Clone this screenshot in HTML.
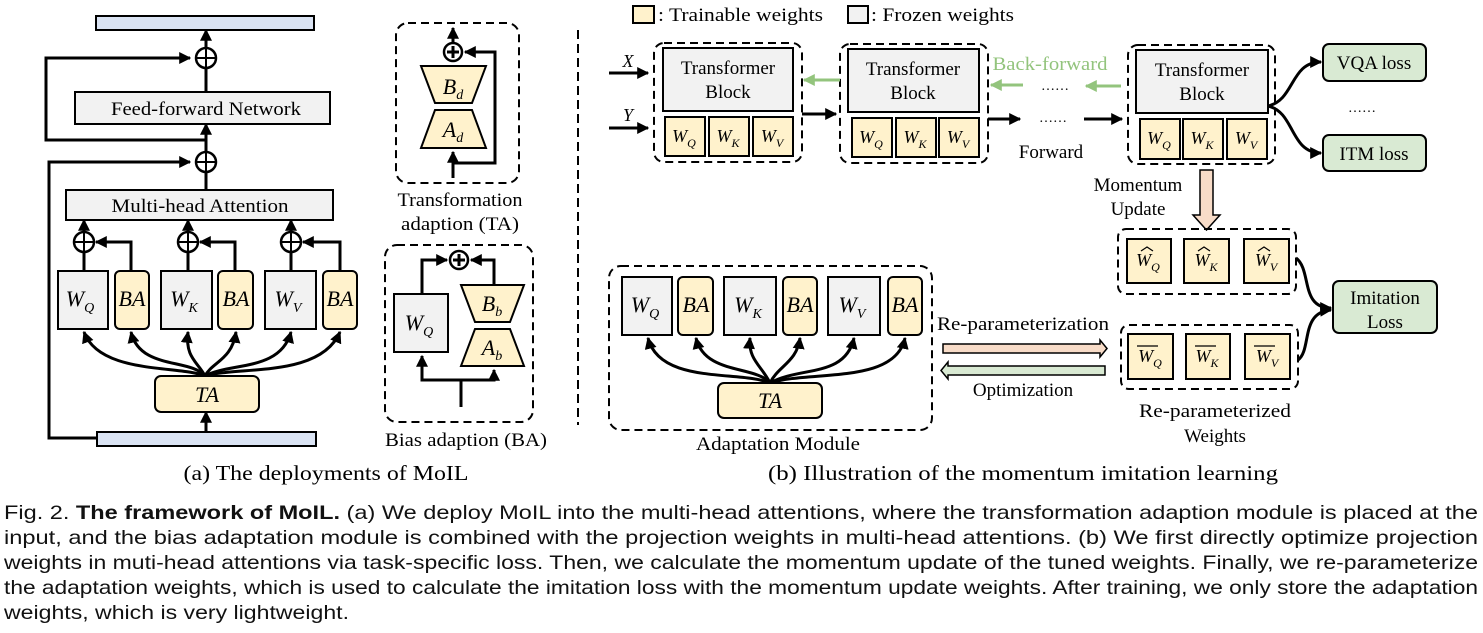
<!DOCTYPE html>
<html><head><meta charset="utf-8"><style>
body{margin:0;background:#fff;width:1483px;height:633px;overflow:hidden;position:relative}
svg{position:absolute;left:0;top:0}
</style></head><body>
<svg width="1483" height="633" viewBox="0 0 1483 633" font-family="Liberation Serif, serif">
<defs>
<marker id="a" viewBox="0 0 10 10" refX="9" refY="5" markerWidth="4" markerHeight="4" orient="auto"><path d="M0,0L10,5L0,10z" fill="#000"/></marker>
<marker id="g" viewBox="0 0 10 10" refX="9" refY="5" markerWidth="4" markerHeight="4" orient="auto"><path d="M0,0L10,5L0,10z" fill="#93c47d"/></marker>
</defs>
<g stroke="#000" stroke-width="2" fill="none">
<rect x="96" y="16" width="218" height="14" fill="#dae3f3"/>
<rect x="97" y="432" width="219" height="14" fill="#dae3f3"/>
<rect x="75" y="92" width="255" height="32" fill="#f2f2f2"/>
<rect x="66" y="190" width="267" height="30" fill="#f2f2f2"/>
<path d="M206 48V30" stroke-width="3" marker-end="url(#a)"/>
<path d="M206 92V68" stroke-width="3"/>
<path d="M206 140H46V58H190" stroke-width="3" marker-end="url(#a)"/>
<path d="M206 152V124" stroke-width="3" marker-end="url(#a)"/>
<path d="M206 190V172" stroke-width="3"/>
<path d="M97 438H49V162H190" stroke-width="3" marker-end="url(#a)"/>
<path d="M206 432V412" stroke-width="3" marker-end="url(#a)"/>
<circle cx="206" cy="58" r="10" stroke-width="2.5"/><path d="M196 58H216M206 48V68"/>
<circle cx="206" cy="162" r="10" stroke-width="2.5"/><path d="M196 162H216M206 152V172"/>
<g stroke-width="3">
<path d="M84 232V220" marker-end="url(#a)"/><path d="M188 232V220" marker-end="url(#a)"/><path d="M291 232V220" marker-end="url(#a)"/>
<path d="M84 271V252"/><path d="M188 271V252"/><path d="M291 271V252"/>
<path d="M131 271V242H96" marker-end="url(#a)"/><path d="M235 271V242H200" marker-end="url(#a)"/><path d="M340 271V242H303" marker-end="url(#a)"/>
</g>
<circle cx="84" cy="242" r="10" stroke-width="2.5"/><path d="M74 242H94M84 232V252"/>
<circle cx="188" cy="242" r="10" stroke-width="2.5"/><path d="M178 242H198M188 232V252"/>
<circle cx="291" cy="242" r="10" stroke-width="2.5"/><path d="M281 242H301M291 232V252"/>
<rect x="58" y="271" width="50" height="58" fill="#f2f2f2"/>
<rect x="115" y="271" width="34" height="58" rx="5" fill="#fff2cc"/>
<rect x="161" y="271" width="51" height="58" fill="#f2f2f2"/>
<rect x="218" y="271" width="35" height="58" rx="5" fill="#fff2cc"/>
<rect x="265" y="271" width="51" height="58" fill="#f2f2f2"/>
<rect x="323" y="271" width="34" height="58" rx="5" fill="#fff2cc"/>
<g stroke-width="3">
<path d="M205 376C180 365 100 375 84 332" marker-end="url(#a)"/>
<path d="M205 376C190 358 140 370 131 332" marker-end="url(#a)"/>
<path d="M205 376C198 362 185 358 188 332" marker-end="url(#a)"/>
<path d="M205 376C212 362 232 360 236 332" marker-end="url(#a)"/>
<path d="M205 376C230 362 280 372 291 332" marker-end="url(#a)"/>
<path d="M205 376C240 366 320 378 340 332" marker-end="url(#a)"/>
</g>
<rect x="155" y="376" width="104" height="36" rx="6" fill="#fff2cc"/>
<rect x="396" y="23" width="123" height="160" rx="12" stroke-dasharray="8,5"/>
<path d="M453 42V28" stroke-width="3" marker-end="url(#a)"/>
<path d="M453 178V152" stroke-width="3" marker-end="url(#a)"/>
<path d="M453 163H495V52H465" stroke-width="3" marker-end="url(#a)"/>
<circle cx="453" cy="52" r="9" stroke-width="2.5"/><path d="M447 52H459M453 46V58" stroke-width="3"/>
<path d="M421 66H486L472 103H435Z" fill="#fff2cc"/>
<path d="M435 110H472L486 148H421Z" fill="#fff2cc"/>
<rect x="385" y="245" width="148" height="177" rx="12" stroke-dasharray="8,5"/>
<path d="M461 407V380H422V356" stroke-width="3" marker-end="url(#a)"/>
<path d="M461 380H494V370" stroke-width="3" marker-end="url(#a)"/>
<path d="M422 294V260H447" stroke-width="3" marker-end="url(#a)"/>
<path d="M494 285V260H471" stroke-width="3" marker-end="url(#a)"/>
<circle cx="459" cy="260" r="9" stroke-width="2.5"/><path d="M453 260H465M459 254V266" stroke-width="3"/>
<rect x="394" y="294" width="54" height="58" fill="#f2f2f2"/>
<path d="M461 285H524L510 322H475Z" fill="#fff2cc"/>
<path d="M475 329H510L524 366H461Z" fill="#fff2cc"/>
<path d="M578 30V425" stroke-dasharray="9,5" stroke-width="2"/>
<rect x="633" y="6" width="21" height="17" fill="#fff2cc"/>
<rect x="848" y="6" width="20" height="17" fill="#f2f2f2"/>
<rect x="654" y="43" width="148" height="119" rx="10" stroke-dasharray="8,5"/>
<rect x="663" y="48" width="130" height="63" fill="#f2f2f2"/>
<rect x="840" y="44" width="148" height="119" rx="10" stroke-dasharray="8,5"/>
<rect x="848" y="49" width="131" height="63" fill="#f2f2f2"/>
<rect x="1128" y="45" width="147" height="119" rx="10" stroke-dasharray="8,5"/>
<rect x="1136" y="50" width="132" height="63" fill="#f2f2f2"/>
<g fill="#fff2cc">
<rect x="665" y="117" width="40" height="39"/><rect x="709" y="117" width="40" height="39"/><rect x="753" y="117" width="40" height="39"/>
<rect x="852" y="118" width="40" height="39"/><rect x="896" y="118" width="40" height="39"/><rect x="939" y="118" width="40" height="39"/>
<rect x="1140" y="119" width="40" height="40"/><rect x="1183" y="119" width="40" height="40"/><rect x="1227" y="119" width="40" height="40"/>
</g>
<g stroke-width="3">
<path d="M609 73H648" marker-end="url(#a)"/><path d="M609 128H648" marker-end="url(#a)"/>
<path d="M802 114H836" marker-end="url(#a)"/>
<path d="M988 119H1020" marker-end="url(#a)"/><path d="M1084 119H1122" marker-end="url(#a)"/>
<path d="M1268 106C1295 100 1290 62 1321 62" marker-end="url(#a)"/>
<path d="M1268 106C1295 112 1290 153 1321 153" marker-end="url(#a)"/>
</g>
<g stroke="#93c47d" stroke-width="3">
<path d="M840 80H804" marker-end="url(#g)"/><path d="M1023 85H991" marker-end="url(#g)"/><path d="M1121 86H1086" marker-end="url(#g)"/>
</g>
<rect x="1323" y="44" width="103" height="37" rx="6" fill="#d9ead3"/>
<rect x="1323" y="135" width="103" height="36" rx="6" fill="#d9ead3"/>
<rect x="1333" y="281" width="104" height="52" rx="6" fill="#d9ead3"/>
<path d="M1200 170H1213V215H1220L1206.5 230L1193 215H1200Z" fill="#f8dcc8" stroke-width="1.5"/>
<rect x="1118" y="229" width="178" height="65" rx="8" stroke-dasharray="8,5"/>
<rect x="1121" y="325" width="177" height="64" rx="8" stroke-dasharray="8,5"/>
<g fill="#fff2cc">
<rect x="1127" y="239" width="44" height="44"/><rect x="1184" y="239" width="45" height="44"/><rect x="1244" y="239" width="45" height="44"/>
<rect x="1128" y="334" width="45" height="45"/><rect x="1186" y="334" width="44" height="45"/><rect x="1245" y="334" width="45" height="45"/>
</g>
<path d="M1296 258C1312 270 1300 308 1331 308" stroke-width="3" marker-end="url(#a)"/>
<path d="M1298 360C1312 350 1300 312 1331 310" stroke-width="3" marker-end="url(#a)"/>
<rect x="609" y="266" width="323" height="164" rx="12" stroke-dasharray="8,5"/>
<rect x="622" y="277" width="50" height="58" fill="#f2f2f2"/>
<rect x="678" y="277" width="35" height="58" rx="5" fill="#fff2cc"/>
<rect x="724" y="277" width="52" height="58" fill="#f2f2f2"/>
<rect x="783" y="277" width="34" height="58" rx="5" fill="#fff2cc"/>
<rect x="828" y="277" width="52" height="58" fill="#f2f2f2"/>
<rect x="888" y="277" width="34" height="58" rx="5" fill="#fff2cc"/>
<g stroke-width="3">
<path d="M770 383C740 370 660 385 648 338" marker-end="url(#a)"/>
<path d="M770 383C755 365 705 375 696 338" marker-end="url(#a)"/>
<path d="M770 383C762 366 748 360 750 338" marker-end="url(#a)"/>
<path d="M770 383C778 366 797 362 800 338" marker-end="url(#a)"/>
<path d="M770 383C800 366 845 378 854 338" marker-end="url(#a)"/>
<path d="M770 383C810 370 895 385 905 338" marker-end="url(#a)"/>
</g>
<rect x="718" y="383" width="104" height="35" rx="6" fill="#fff2cc"/>
<path d="M943 344H1100V340L1107 348.5L1100 357V353H943Z" fill="#f8dcc8" stroke-width="1.5"/>
<path d="M1105 366H948V362L941 370.5L948 379V375H1105Z" fill="#d9ead3" stroke-width="1.5"/>
</g>
<g stroke="#000" stroke-width="1.2" fill="none">
<path d="M1141 251l6-4 6 4"/><path d="M1198 251l6-4 6 4"/><path d="M1258 251l6-4 6 4"/>
<path d="M1137 346H1158"/><path d="M1195 346H1216"/><path d="M1254 346H1275"/>
</g>
<g font-size="19" fill="#000" text-anchor="middle">
<text x="206" y="115" textLength="190" lengthAdjust="spacingAndGlyphs">Feed-forward Network</text>
<text x="200" y="212" textLength="177" lengthAdjust="spacingAndGlyphs">Multi-head Attention</text>
<text x="460" y="206" textLength="125" lengthAdjust="spacingAndGlyphs">Transformation</text>
<text x="460" y="230" textLength="118" lengthAdjust="spacingAndGlyphs">adaption (TA)</text>
<text x="466" y="446" textLength="162" lengthAdjust="spacingAndGlyphs">Bias adaption (BA)</text>
<text x="728" y="74">Transformer</text><text x="728" y="98">Block</text>
<text x="913" y="75">Transformer</text><text x="913" y="99">Block</text>
<text x="1202" y="76">Transformer</text><text x="1202" y="100">Block</text>
<text x="1050" y="70" fill="#93c47d" textLength="115" lengthAdjust="spacingAndGlyphs">Back-forward</text>
<text x="1055" y="90" font-size="14">……</text>
<text x="1053" y="122" font-size="14">……</text>
<text x="1051" y="158">Forward</text>
<text x="1374" y="69">VQA loss</text>
<text x="1374" y="160">ITM loss</text>
<text x="1362" y="112" font-size="14">……</text>
<text x="1385" y="304">Imitation</text><text x="1385" y="328">Loss</text>
<text x="1138" y="191">Momentum</text><text x="1138" y="215">Update</text>
<text x="1023" y="330" textLength="172" lengthAdjust="spacingAndGlyphs">Re-parameterization</text>
<text x="1023" y="396">Optimization</text>
<text x="1215" y="417" textLength="152" lengthAdjust="spacingAndGlyphs">Re-parameterized</text><text x="1215" y="442">Weights</text>
<text x="778" y="450" textLength="164" lengthAdjust="spacingAndGlyphs">Adaptation Module</text>
<text x="326" y="480" font-size="21" textLength="285" lengthAdjust="spacingAndGlyphs">(a) The deployments of MoIL</text>
<text x="1023" y="480" font-size="21" textLength="510" lengthAdjust="spacingAndGlyphs">(b) Illustration of  the momentum imitation learning</text>
</g>
<g font-size="19" fill="#000" text-anchor="start">
<text x="658" y="21" textLength="165" lengthAdjust="spacingAndGlyphs">: Trainable weights</text>
<text x="871" y="21" textLength="143" lengthAdjust="spacingAndGlyphs">: Frozen weights</text>
</g>
<g font-style="italic" fill="#000" text-anchor="middle" font-size="22">
<text x="628" y="67" font-size="18">X</text><text x="628" y="121" font-size="18">Y</text>
<text x="80" y="306">W<tspan font-size="14" dy="6">Q</tspan></text>
<text x="132" y="306">BA</text>
<text x="184" y="306">W<tspan font-size="14" dy="6">K</tspan></text>
<text x="236" y="306">BA</text>
<text x="288" y="306">W<tspan font-size="14" dy="6">V</tspan></text>
<text x="340" y="306">BA</text>
<text x="207" y="402">TA</text>
<text x="453" y="94">B<tspan font-size="14" dy="5">d</tspan></text>
<text x="453" y="137">A<tspan font-size="14" dy="5">d</tspan></text>
<text x="419" y="330">W<tspan font-size="14" dy="6">Q</tspan></text>
<text x="492" y="311">B<tspan font-size="14" dy="5">b</tspan></text>
<text x="492" y="355">A<tspan font-size="14" dy="5">b</tspan></text>
<text x="645" y="312">W<tspan font-size="14" dy="6">Q</tspan></text>
<text x="696" y="312">BA</text>
<text x="748" y="312">W<tspan font-size="14" dy="6">K</tspan></text>
<text x="800" y="312">BA</text>
<text x="852" y="312">W<tspan font-size="14" dy="6">V</tspan></text>
<text x="905" y="312">BA</text>
<text x="770" y="408">TA</text>
</g>
<g font-style="italic" fill="#000" text-anchor="middle" font-size="18">
<text x="684" y="142">W<tspan font-size="12" dy="5">Q</tspan></text>
<text x="728" y="142">W<tspan font-size="12" dy="5">K</tspan></text>
<text x="772" y="142">W<tspan font-size="12" dy="5">V</tspan></text>
<text x="871" y="143">W<tspan font-size="12" dy="5">Q</tspan></text>
<text x="915" y="143">W<tspan font-size="12" dy="5">K</tspan></text>
<text x="958" y="143">W<tspan font-size="12" dy="5">V</tspan></text>
<text x="1159" y="144">W<tspan font-size="12" dy="5">Q</tspan></text>
<text x="1202" y="144">W<tspan font-size="12" dy="5">K</tspan></text>
<text x="1246" y="144">W<tspan font-size="12" dy="5">V</tspan></text>
<text x="1148" y="266">W<tspan font-size="12" dy="5">Q</tspan></text>
<text x="1206" y="266">W<tspan font-size="12" dy="5">K</tspan></text>
<text x="1266" y="266">W<tspan font-size="12" dy="5">V</tspan></text>
<text x="1150" y="362">W<tspan font-size="12" dy="5">Q</tspan></text>
<text x="1207" y="362">W<tspan font-size="12" dy="5">K</tspan></text>
<text x="1267" y="362">W<tspan font-size="12" dy="5">V</tspan></text>
</g>
<g font-family="Liberation Sans, sans-serif" font-size="19.5" fill="#111">
<text x="4" y="519" textLength="1474" lengthAdjust="spacingAndGlyphs">Fig. 2. <tspan font-weight="bold">The framework of MoIL.</tspan> (a) We deploy MoIL into the multi-head attentions, where the transformation adaption module is placed at the</text>
<text x="4" y="544" textLength="1474" lengthAdjust="spacingAndGlyphs">input, and the bias adaptation module is combined with the projection weights in multi-head attentions. (b) We first directly optimize projection</text>
<text x="4" y="569" textLength="1474" lengthAdjust="spacingAndGlyphs">weights in muti-head attentions via task-specific loss. Then, we calculate the momentum update of the tuned weights. Finally, we re-parameterize</text>
<text x="4" y="594" textLength="1474" lengthAdjust="spacingAndGlyphs">the adaptation weights, which is used to calculate the imitation loss with the momentum update weights. After training, we only store the adaptation</text>
<text x="4" y="619" textLength="345" lengthAdjust="spacingAndGlyphs">weights, which is very lightweight.</text>
</g>
</svg>
</body></html>
